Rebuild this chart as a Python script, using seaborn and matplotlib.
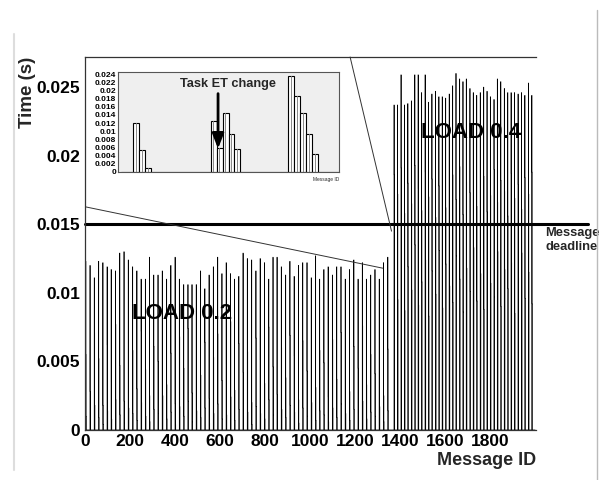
import numpy as np
import pandas as pd
import matplotlib
matplotlib.use("Agg")
import matplotlib.pyplot as plt
import seaborn as sns

# ---- main histogram: response time of each message (bursts of consecutive IDs)
load02_first_id = 3
load02_step = 18.9
load02_peak = [0.0123, 0.0120, 0.0111, 0.0123, 0.0122, 0.0119, 0.0117, 0.0116, 0.0129, 0.0130,
               0.0124, 0.0119, 0.0116, 0.0110, 0.0110, 0.0126, 0.0113, 0.0113, 0.0116, 0.0110,
               0.0120, 0.0126, 0.0110, 0.0106, 0.0106, 0.0106, 0.0106, 0.0116, 0.0103, 0.0113,
               0.0119, 0.0126, 0.0114, 0.0122, 0.0114, 0.0110, 0.0112, 0.0129, 0.0125, 0.0124,
               0.0116, 0.0125, 0.0122, 0.0110, 0.0126, 0.0126, 0.0119, 0.0113, 0.0123, 0.0112,
               0.0120, 0.0122, 0.0122, 0.0111, 0.0127, 0.0110, 0.0117, 0.0119, 0.0113, 0.0119,
               0.0119, 0.0110, 0.0117, 0.0124, 0.0110, 0.0122, 0.0110, 0.0113, 0.0117, 0.0110,
               0.0122, 0.0126]
load02_second = [0.0055, 0.0028, 0.0071, 0.0052, 0.0018, 0.0062, 0.0035, 0.0077, 0.0047, 0.0021,
                 0.0066, 0.0058, 0.0030, 0.0072, 0.0044, 0.0025, 0.0061, 0.0050, 0.0080, 0.0033,
                 0.0056, 0.0019, 0.0068, 0.0045, 0.0074, 0.0027, 0.0059, 0.0040, 0.0064, 0.0023,
                 0.0053, 0.0070, 0.0036, 0.0048, 0.0079, 0.0029, 0.0063, 0.0042, 0.0057, 0.0020,
                 0.0067, 0.0051, 0.0034, 0.0075, 0.0046, 0.0026, 0.0060, 0.0038, 0.0069, 0.0054,
                 0.0022, 0.0065, 0.0043, 0.0073, 0.0031, 0.0058, 0.0049, 0.0024, 0.0066, 0.0037,
                 0.0071, 0.0052, 0.0028, 0.0061, 0.0045, 0.0076, 0.0033, 0.0055, 0.0041, 0.0068,
                 0.0025, 0.0059]
load02_third = [0.0010, 0.0006, 0.0018, 0.0009, 0.0004, 0.0014, 0.0008, 0.0022, 0.0011, 0.0005,
                0.0016, 0.0012, 0.0007, 0.0020, 0.0010, 0.0006, 0.0015, 0.0012, 0.0025, 0.0008,
                0.0013, 0.0004, 0.0017, 0.0010, 0.0021, 0.0006, 0.0014, 0.0009, 0.0016, 0.0005,
                0.0012, 0.0019, 0.0008, 0.0011, 0.0024, 0.0007, 0.0015, 0.0010, 0.0013, 0.0004,
                0.0017, 0.0012, 0.0008, 0.0022, 0.0011, 0.0006, 0.0015, 0.0009, 0.0018, 0.0013,
                0.0005, 0.0016, 0.0010, 0.0020, 0.0007, 0.0014, 0.0011, 0.0006, 0.0016, 0.0009,
                0.0019, 0.0012, 0.0007, 0.0015, 0.0010, 0.0021, 0.0008, 0.0013, 0.0010, 0.0017,
                0.0006, 0.0014]

load04_first_id = 1373
load04_step = 15.3
load04_peak = [0.0237, 0.0237, 0.0259, 0.0237, 0.0238, 0.0240, 0.0259, 0.0259, 0.0246, 0.0259,
               0.0239, 0.0245, 0.0247, 0.0243, 0.0243, 0.0242, 0.0245, 0.0251, 0.0260, 0.0256,
               0.0254, 0.0256, 0.0249, 0.0246, 0.0244, 0.0246, 0.0250, 0.0247, 0.0243, 0.0241,
               0.0256, 0.0254, 0.0249, 0.0246, 0.0246, 0.0246, 0.0245, 0.0246, 0.0244, 0.0253,
               0.0244, 0.0256]
load04_second = [0.0186, 0.0172, 0.0191, 0.0158, 0.0180, 0.0165, 0.0193, 0.0176, 0.0160, 0.0188,
                 0.0170, 0.0183, 0.0155, 0.0178, 0.0190, 0.0162, 0.0175, 0.0186, 0.0168, 0.0192,
                 0.0157, 0.0181, 0.0173, 0.0189, 0.0163, 0.0177, 0.0185, 0.0159, 0.0171, 0.0190,
                 0.0166, 0.0182, 0.0174, 0.0156, 0.0187, 0.0169, 0.0179, 0.0161, 0.0184, 0.0172,
                 0.0188, 0.0164]
load04_third = [0.0112, 0.0095, 0.0128, 0.0087, 0.0119, 0.0102, 0.0135, 0.0091, 0.0108, 0.0124,
                0.0083, 0.0116, 0.0099, 0.0131, 0.0089, 0.0121, 0.0105, 0.0093, 0.0127, 0.0110,
                0.0086, 0.0118, 0.0101, 0.0133, 0.0094, 0.0114, 0.0088, 0.0125, 0.0107, 0.0097,
                0.0130, 0.0090, 0.0117, 0.0103, 0.0122, 0.0085, 0.0111, 0.0129, 0.0096, 0.0115,
                0.0092, 0.0120]

n_messages = 2000
deadline = 0.015

# ---- inset: zoom on the task execution-time change
inset_ids = [2, 3, 4, 15, 16, 17, 18, 19, 28, 29, 30, 31, 32]
inset_times = [0.0120, 0.0055, 0.0010, 0.0125, 0.0060, 0.0145, 0.0093, 0.0057,
               0.0235, 0.0187, 0.0145, 0.0093, 0.0044]

# per-message series
times = np.zeros(n_messages)
for first, step, bins in [(load02_first_id, load02_step, zip(load02_peak, load02_second, load02_third)),
                          (load04_first_id, load04_step, zip(load04_peak, load04_second, load04_third))]:
    for i, vals in enumerate(bins):
        s = int(round(first + i * step))
        for k, v in enumerate(vals):
            if s + k < n_messages:
                times[s + k] = v
df = pd.DataFrame({"id": np.arange(n_messages) + 0.5, "time": times})
df_inset = pd.DataFrame({"id": np.array(inset_ids) + 0.5, "time": inset_times})

sns.set_style("white")
plt.rcParams["font.family"] = ["Liberation Sans", "DejaVu Sans"]
plt.rcParams["font.weight"] = "bold"

fig = plt.figure(figsize=(6.05, 4.8), dpi=100)
ax = fig.add_axes([85 / 605, 1 - 430 / 480, 451 / 605, 373 / 480])

sns.histplot(data=df, x="id", weights="time", binwidth=1, binrange=(0, n_messages),
             element="step", fill=False, color="black", linewidth=0.5, ax=ax)

ax.set_xlim(0, 2004)
ax.set_ylim(0, 0.0272)
ax.set_xticks(np.arange(0, 2000, 200))
ax.set_xticks(np.arange(0, 2004, 50), minor=True)
ax.set_yticks(np.arange(0, 0.026, 0.005))
ax.set_yticks(np.arange(0, 0.0272, 0.001), minor=True)
ax.set_yticklabels([f"{v:g}" for v in np.arange(0, 0.026, 0.005)])
ax.tick_params(which="both", direction="in", colors="black", labelsize=12.5)
ax.tick_params(which="major", length=10, width=0.8)
ax.tick_params(which="minor", length=5, width=0.8)
ax.tick_params(axis="x", pad=3)
for side in ["left", "bottom", "top"]:
    ax.spines[side].set_color("#333333")
    ax.spines[side].set_linewidth(0.9)
ax.spines["right"].set_visible(False)

ax.set_ylabel("Time (s)", loc="top", fontsize=13.5, fontweight="bold")
ax.yaxis.set_label_coords(-0.108, 1.0)
ax.set_xlabel("Message ID", loc="right", fontsize=13, fontweight="bold", labelpad=2)

# deadline line running past the frame
ax.axhline(deadline, xmin=0, xmax=(588 - 85) / 451, color="black", linewidth=2.2, clip_on=False)
ax.text(2045, 0.0148, "Message\ndeadline", fontsize=9.3, fontweight="bold", va="top", ha="left",
        linespacing=1.25)

ax.text(430, 0.0085, "LOAD 0.2", fontsize=16, fontweight="bold", ha="center", va="center",
        color="black", zorder=10)
ax.text(1715, 0.0217, "LOAD 0.4", fontsize=16, fontweight="bold", ha="center", va="center",
        color="black", zorder=10)

# zoom lines towards the inset
ax.plot([0, 1323], [0.01628, 0.0118], color="#333333", linewidth=0.7)
ax.plot([1178, 1362], [0.0272, 0.0145], color="#333333", linewidth=0.7, clip_on=False)

# ---- inset
axi = fig.add_axes([118 / 605, 1 - 172 / 480, 221 / 605, 100 / 480])
axi.set_facecolor("#efefef")
sns.histplot(data=df_inset, x="id", weights="time", binwidth=1, binrange=(0, 37), element="bars",
             fill=True, color="white", edgecolor="black", linewidth=0.8, alpha=1, ax=axi)
for p in list(axi.patches):
    if p.get_height() > 0:
        cx = p.get_x() + p.get_width() * 0.45
        axi.plot([cx, cx], [0, p.get_height()], color="#888888", linewidth=0.7)
axi.set_xlim(-0.5, 36.5)
axi.set_ylim(0, 0.0245)
axi.set_yticks(np.arange(0, 0.0241, 0.002))
axi.set_yticklabels([f"{v:g}" for v in np.arange(0, 0.0241, 0.002)])
axi.set_yticks(np.arange(0, 0.0245, 0.001), minor=True)
axi.set_xticks(np.arange(0, 37, 2))
axi.set_xticks(np.arange(0, 37, 1), minor=True)
axi.set_xticklabels([])
axi.tick_params(which="both", direction="in", colors="black", labelsize=6, pad=1.5)
axi.tick_params(which="major", length=4, width=0.6)
axi.tick_params(which="minor", length=2, width=0.6)
axi.set_ylabel("")
axi.set_xlabel("Message ID", loc="right", fontsize=3.5, labelpad=2)
for side in axi.spines.values():
    side.set_color("#555555")
    side.set_linewidth(0.8)

axi.text(18, 0.0215, "Task ET change", fontsize=9.2, fontweight="bold", ha="center", va="center")
axi.annotate("", xy=(16.25, 0.0057), xytext=(16.25, 0.0192),
             arrowprops=dict(arrowstyle="-|>,head_width=0.35,head_length=0.9", color="black",
                             linewidth=2.0, shrinkA=0, shrinkB=0))

# page border lines from the scan
fig.add_artist(plt.Line2D([14 / 605, 14 / 605], [0.02, 0.93], color="#dddddd", linewidth=1.5))
fig.add_artist(plt.Line2D([597 / 605, 597 / 605], [0.0, 0.98], color="#bbbbbb", linewidth=1.0))

fig.savefig("out.png", dpi=100)
